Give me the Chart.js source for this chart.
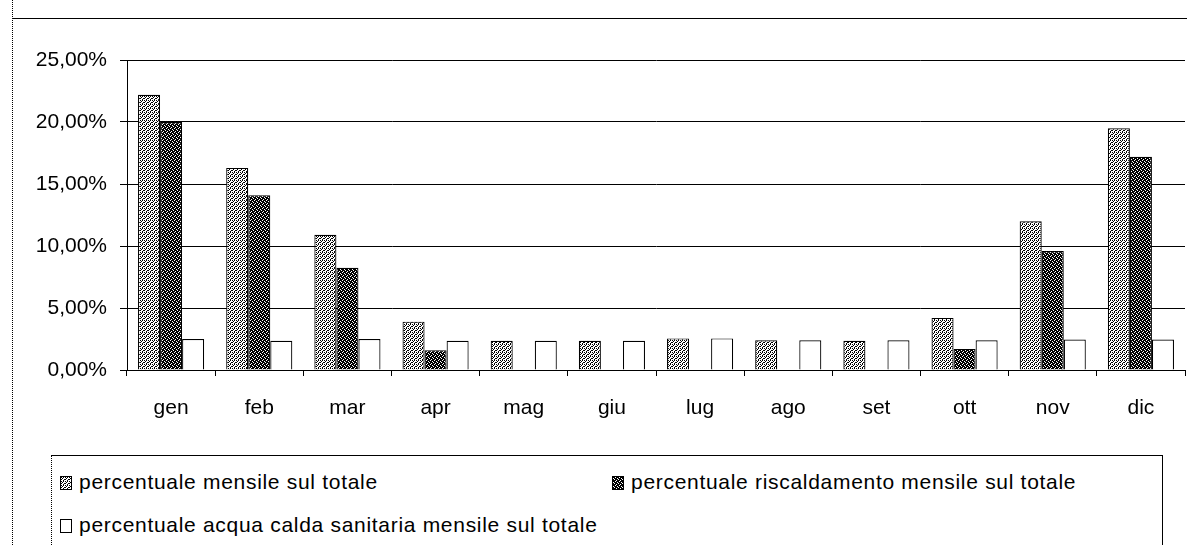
<!DOCTYPE html>
<html>
<head>
<meta charset="utf-8">
<script src="https://cdn.jsdelivr.net/npm/chart.js@4"></script>
<style>
	html, body { margin: 0; padding: 0; background: #fff; }
	#wrap { position: relative; width: 1187px; height: 545px; overflow: hidden; font-family: "Liberation Sans", Arial, sans-serif; }
	#chart { position: absolute; left: 0; top: 0; }
	#frameLeft { position: absolute; left: 12px; top: 0; width: 0; height: 545px; border-left: 1px dotted #000; }
	#frameTop { position: absolute; left: 12px; top: 18px; width: 1175px; height: 0; border-top: 1px solid #000; }
	#legend { position: absolute; left: 51px; top: 455px; width: 1112px; height: 110px; border: 1px solid #000; border-left-style: dotted; box-sizing: border-box; }
	.item { position: absolute; font-size: 21px; color: #000; white-space: nowrap; line-height: 24px; letter-spacing: 0.7px; }
	.sw { display: inline-block; width: 10px; height: 12px; border: 1px solid #000; margin-right: 7px; vertical-align: -1px; }
</style>
</head>
<body>
<div id="wrap">
	<canvas id="chart" width="1187" height="440"></canvas>
	<div id="frameLeft"></div>
	<div id="frameTop"></div>
	<div id="legend"></div>
</div>
<script>
// data
var months = ['gen', 'feb', 'mar', 'apr', 'mag', 'giu', 'lug', 'ago', 'set', 'ott', 'nov', 'dic'];
var totalPct   = [22.2, 16.3, 10.9, 3.9, 2.35, 2.35, 2.55, 2.4, 2.35, 4.2, 12.0, 19.5];
var heatingPct = [20.0, 14.1, 8.25, 1.6, 0, 0, 0, 0, 0, 1.7, 9.6, 17.2];
var dhwPct     = [2.5, 2.35, 2.5, 2.35, 2.35, 2.35, 2.55, 2.4, 2.4, 2.4, 2.45, 2.45];
var seriesNames = [
	'percentuale mensile sul totale',
	'percentuale riscaldamento mensile sul totale',
	'percentuale acqua calda sanitaria  mensile sul totale'
];
var yMax = 25, yStep = 5;

function makePattern(rows) {
	var c = document.createElement('canvas');
	c.width = rows[0].length; c.height = rows.length;
	var g = c.getContext('2d');
	g.fillStyle = '#fff'; g.fillRect(0, 0, c.width, c.height);
	g.fillStyle = '#000';
	rows.forEach(function (r, y) {
		for (var x = 0; x < r.length; x++) if (r[x] === '1') g.fillRect(x, y, 1, 1);
	});
	return g.createPattern(c, 'repeat');
}

var ctx = document.getElementById('chart').getContext('2d');
var lightFill = makePattern(['1010', '0100', '1001', '0010']);
var darkFill  = makePattern(['1101', '0111', '1011', '1110']);
var fills = [lightFill, darkFill, '#fff'];

function fmtPct(v) { return v.toFixed(2).replace('.', ',') + '%'; }

var font = { family: '"Liberation Sans", Arial, sans-serif', size: 21 };

new Chart(ctx, {
	type: 'bar',
	data: {
		labels: months,
		datasets: [totalPct, heatingPct, dhwPct].map(function (d, i) {
			return {
				label: seriesNames[i],
				data: d,
				backgroundColor: fills[i],
				borderColor: '#000',
				borderWidth: 1.2,
				borderSkipped: 'bottom',
				categoryPercentage: 0.75,
				barPercentage: 1
			};
		})
	},
	options: {
		responsive: false,
		animation: false,
		events: [],
		layout: { padding: { top: 60, right: 2, left: 0, bottom: 0 } },
		plugins: { legend: { display: false }, tooltip: { enabled: false } },
		scales: {
			x: {
				offset: true,
				grid: { offset: true, drawOnChartArea: false, drawTicks: true, tickLength: 6, color: '#000' },
				border: { color: '#000', width: 1 },
				ticks: { color: '#000', font: font, padding: 20 },
				afterFit: function (s) { s.height = 70; }
			},
			y: {
				min: 0, max: yMax,
				grid: { color: '#000', lineWidth: 1, tickLength: 7 },
				border: { color: '#000', width: 1 },
				ticks: { stepSize: yStep, color: '#000', font: font, padding: 13, callback: function (v) { return fmtPct(v); } },
				afterFit: function (s) { s.width = 127; }
			}
		}
	}
});

// legend drawn as html so the two-column layout of the original can be kept
var legend = document.getElementById('legend');
var spots = [[8, 14], [560, 14], [8, 57]];
seriesNames.forEach(function (name, i) {
	var it = document.createElement('div');
	it.className = 'item';
	it.style.left = spots[i][0] + 'px';
	it.style.top = spots[i][1] + 'px';
	var sw = document.createElement('span');
	sw.className = 'sw';
	var c = document.createElement('canvas');
	c.width = 10; c.height = 12;
	var g = c.getContext('2d');
	g.fillStyle = fills[i]; g.fillRect(0, 0, 10, 12);
	sw.style.backgroundImage = 'url(' + c.toDataURL() + ')';
	it.appendChild(sw);
	it.appendChild(document.createTextNode(name));
	legend.appendChild(it);
});
</script>
</body>
</html>
